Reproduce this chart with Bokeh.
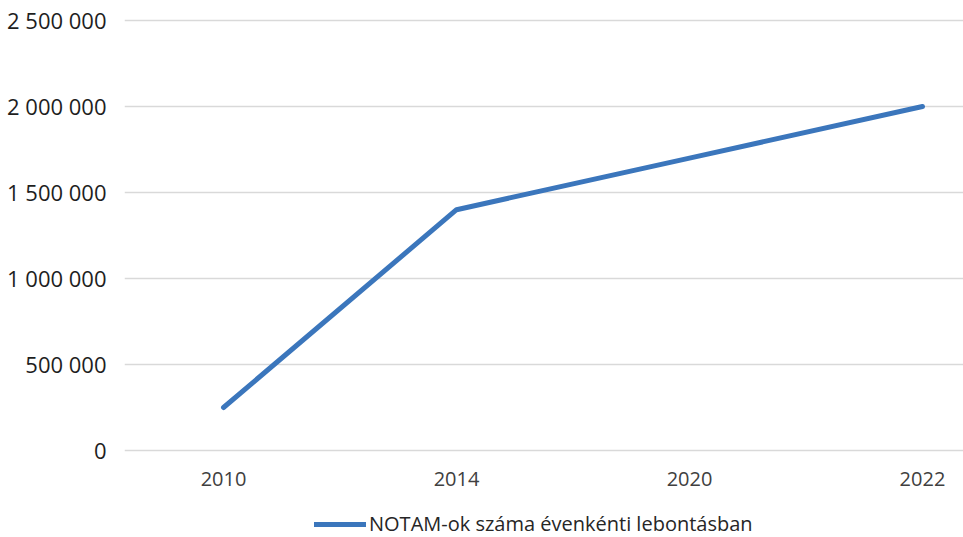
from bokeh.plotting import figure
from bokeh.models import Range1d, FixedTicker, Legend, LegendItem, CustomJSTickFormatter
from bokeh.embed import file_html
from bokeh.resources import INLINE

years = ["2010", "2014", "2020", "2022"]
notams = [250000, 1400000, 1700000, 2000000]
y_ticks = [0, 500000, 1000000, 1500000, 2000000, 2500000]
series_name = "NOTAM-ok száma évenkénti lebontásban"

xs = list(range(len(years)))

p = figure(width=963, height=537, output_backend="svg", toolbar_location=None,
           min_border_left=124, min_border_right=0, min_border_top=10, min_border_bottom=0)
p.x_range = Range1d(-0.425, 3.176)
p.y_range = Range1d(-505800, 2558000)

r = p.line(xs, notams, line_color="#3B76BC", line_width=5, line_cap="round", line_join="round")

p.outline_line_color = None
p.xgrid.grid_line_color = None
p.ygrid.grid_line_color = "#D9D9D9"
p.ygrid.grid_line_width = 1.3
p.ygrid.ticker = FixedTicker(ticks=y_ticks)

p.yaxis.ticker = FixedTicker(ticks=y_ticks)
p.yaxis.formatter = CustomJSTickFormatter(code="return Math.round(tick).toString().replace(/\\B(?=(\\d{3})+(?!\\d))/g, ' ');")
p.yaxis.axis_line_color = None
p.yaxis.major_tick_line_color = None
p.yaxis.minor_tick_line_color = None
p.yaxis.major_label_text_font = "Open Sans"
p.yaxis.major_label_text_font_size = "22px"
p.yaxis.major_label_text_color = "#1E1E1E"
p.yaxis.major_label_standoff = 12

p.xaxis.fixed_location = 0
p.xaxis.ticker = FixedTicker(ticks=xs)
p.xaxis.major_label_overrides = {i: y for i, y in enumerate(years)}
p.xaxis.axis_line_color = None
p.xaxis.major_tick_line_color = None
p.xaxis.minor_tick_line_color = None
p.xaxis.major_label_text_font = "Open Sans"
p.xaxis.major_label_text_font_size = "20px"
p.xaxis.major_label_text_color = "#404040"
p.xaxis.major_label_standoff = 16

legend = Legend(items=[LegendItem(label=series_name, renderers=[r])],
                location=(190, 0), orientation="horizontal")
legend.background_fill_alpha = 0
legend.border_line_color = None
legend.label_text_font = "Open Sans"
legend.label_text_font_size = "20px"
legend.label_text_color = "#262626"
legend.glyph_width = 52
legend.label_standoff = 3
legend.padding = 0
legend.margin = 0
p.add_layout(legend, "center")

open("out.html", "w").write(file_html(p, INLINE))
